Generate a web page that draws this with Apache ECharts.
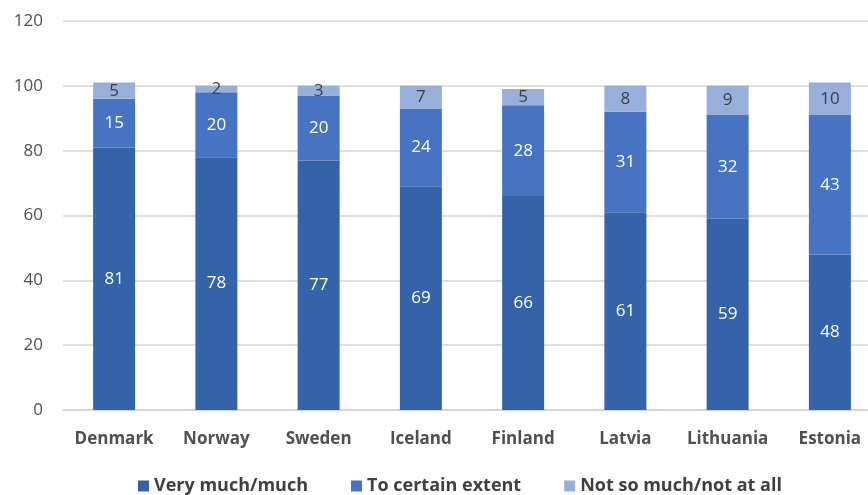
<!DOCTYPE html>
<html>
<head>
<meta charset="utf-8">
<script src="https://cdn.jsdelivr.net/npm/echarts@6/dist/echarts.min.js"></script>
<style>
  html, body { margin: 0; padding: 0; background: #fff; overflow: hidden; }
  #chart { width: 881px; height: 495px; }
</style>
</head>
<body>
<div id="chart"></div>
<script>
const countries = ['Denmark', 'Norway', 'Sweden', 'Iceland', 'Finland', 'Latvia', 'Lithuania', 'Estonia']
const veryMuch = [81, 78, 77, 69, 66, 61, 59, 48]
const certainExtent = [15, 20, 20, 24, 28, 31, 32, 43]
const notSoMuch = [5, 2, 3, 7, 5, 8, 9, 10]
const yTicks = [0, 20, 40, 60, 80, 100, 120]

const font = 'Open Sans'
const colors = ['#3563aa', '#4673c2', '#97afda']

const makeSeries = (name, data, i) => ({
  name,
  type: 'bar',
  stack: 'total',
  barWidth: 42,
  data,
  itemStyle: { color: colors[i] },
  label: {
    show: true,
    position: 'inside',
    color: i === 2 ? '#404040' : '#ffffff',
    fontFamily: font,
    fontSize: 17
  }
})

// the chart is a bit wider than the window, the Estonia column is cut at the right edge
const chart = echarts.init(document.getElementById('chart'))
chart.setOption({
  animation: false,
  grid: { left: 63, right: 0, top: 21, bottom: 85 },
  legend: {
    bottom: -5,
    left: 133,
    itemWidth: 11,
    itemHeight: 11,
    itemGap: 43,
    icon: 'rect',
    textStyle: { fontFamily: font, fontSize: 18, fontWeight: 'bold', color: '#404040' }
  },
  xAxis: {
    type: 'category',
    data: countries,
    axisTick: { show: false },
    axisLine: { lineStyle: { color: '#cfcfcf', width: 1.5 } },
    axisLabel: { interval: 0, fontFamily: font, fontSize: 17, fontWeight: 'bold', color: '#505050', margin: 21 }
  },
  yAxis: {
    type: 'value',
    min: yTicks[0],
    max: yTicks[yTicks.length - 1],
    interval: 20,
    axisLine: { show: false },
    axisTick: { show: false },
    splitLine: { lineStyle: { color: '#d6d6d6', width: 1.5 } },
    axisLabel: { fontFamily: font, fontSize: 17, color: '#505050', margin: 20 }
  },
  series: [
    makeSeries('Very much/much', veryMuch, 0),
    makeSeries('To certain extent', certainExtent, 1),
    makeSeries('Not so much/not at all', notSoMuch, 2)
  ]
})
</script>
</body>
</html>
